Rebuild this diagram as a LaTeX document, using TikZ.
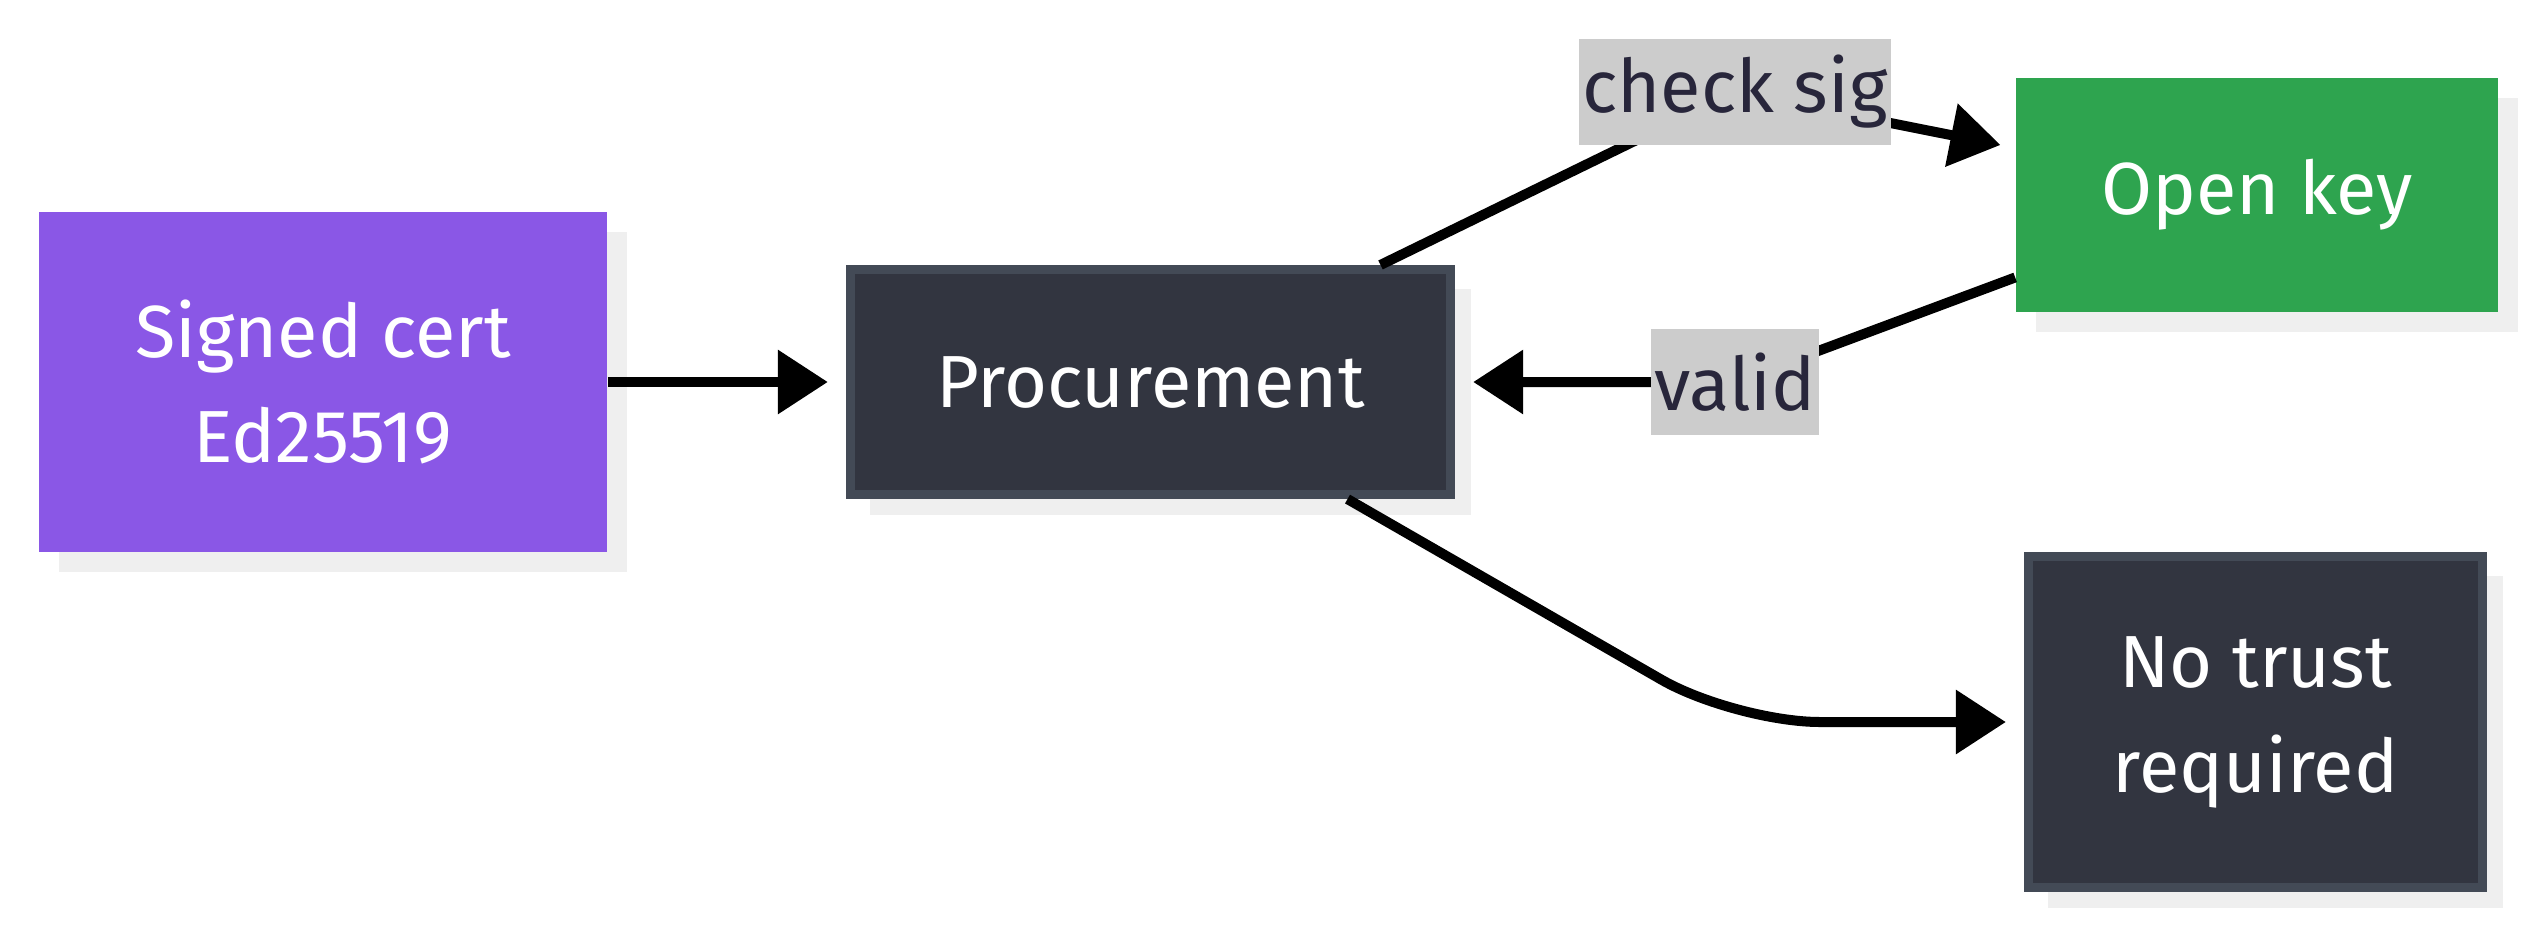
\documentclass[tikz,border=0pt]{standalone}
\usepackage{fontspec}
\setmainfont{Fira Sans}
\usepackage{xcolor}
\usetikzlibrary{arrows.meta,positioning,calc,shadows}

\definecolor{certpurple}{HTML}{8A57E6}
\definecolor{keygreen}{HTML}{2EA44F}
\definecolor{darkfill}{HTML}{323540}
\definecolor{darkborder}{HTML}{434A56}
\definecolor{shadowgray}{HTML}{EFEFEF}
\definecolor{labelgray}{HTML}{CCCCCC}
\definecolor{labeltext}{HTML}{28263B}

\begin{document}
\begin{tikzpicture}[x=0.01cm, y=-0.01cm,
    every node/.style={font=\fontsize{21}{29.9}\selectfont},
    box/.style={text=white, align=center, inner sep=0pt,
        general shadow={fill=shadowgray, shadow xshift=0.2cm, shadow yshift=-0.2cm}},
    darkbox/.style={box, fill=darkfill, draw=darkborder, line width=0.09cm},
    lbl/.style={sharp corners, fill=labelgray, text=labeltext, inner xsep=0.03cm, inner ysep=0pt, minimum height=1.05cm},
    flow/.style={line width=0.1cm, -{Triangle[length=0.5cm, width=0.62cm]}, shorten >=0.18cm}]
    \useasboundingbox (0,0) rectangle (2537,927);

    % boxes
    \node[box, fill=certpurple, minimum width=5.68cm, minimum height=3.4cm] (cert) at (323,382) {Signed cert\\Ed25519};
    \node[darkbox, minimum width=6.0cm, minimum height=2.25cm] (proc) at (1150.5,382) {Procurement};
    \node[box, fill=keygreen, minimum width=4.82cm, minimum height=2.34cm] (openkey) at (2257,195) {Open key};
    \node[darkbox, minimum width=4.54cm, minimum height=3.31cm] (notrust) at (2255.5,722) {No trust\\required};

    % where the labels sit
    \coordinate (sigpos) at (1735,92);
    \coordinate (validpos) at (1735,382);
    \coordinate (bend) at (1735,722);

    % connectors
    \draw[flow] (cert.east) -- (proc.west);
    \draw[flow, shorten >=0.15cm] ($(proc.north)+(230,0)$) -- (sigpos) node[lbl] (checksig) {check sig}
        -- ($(openkey.north west)!0.3!(openkey.south west)$);
    \draw[flow, rounded corners=0.4cm] ($(openkey.north west)!0.85!(openkey.south west)$) -- (validpos) node[lbl] (valid) {valid}
        -- (proc.east);
    \draw[flow, rounded corners=0.85cm] ($(proc.south)+(197,0)$) -- (bend) -- (notrust.west);
\end{tikzpicture}
\end{document}
